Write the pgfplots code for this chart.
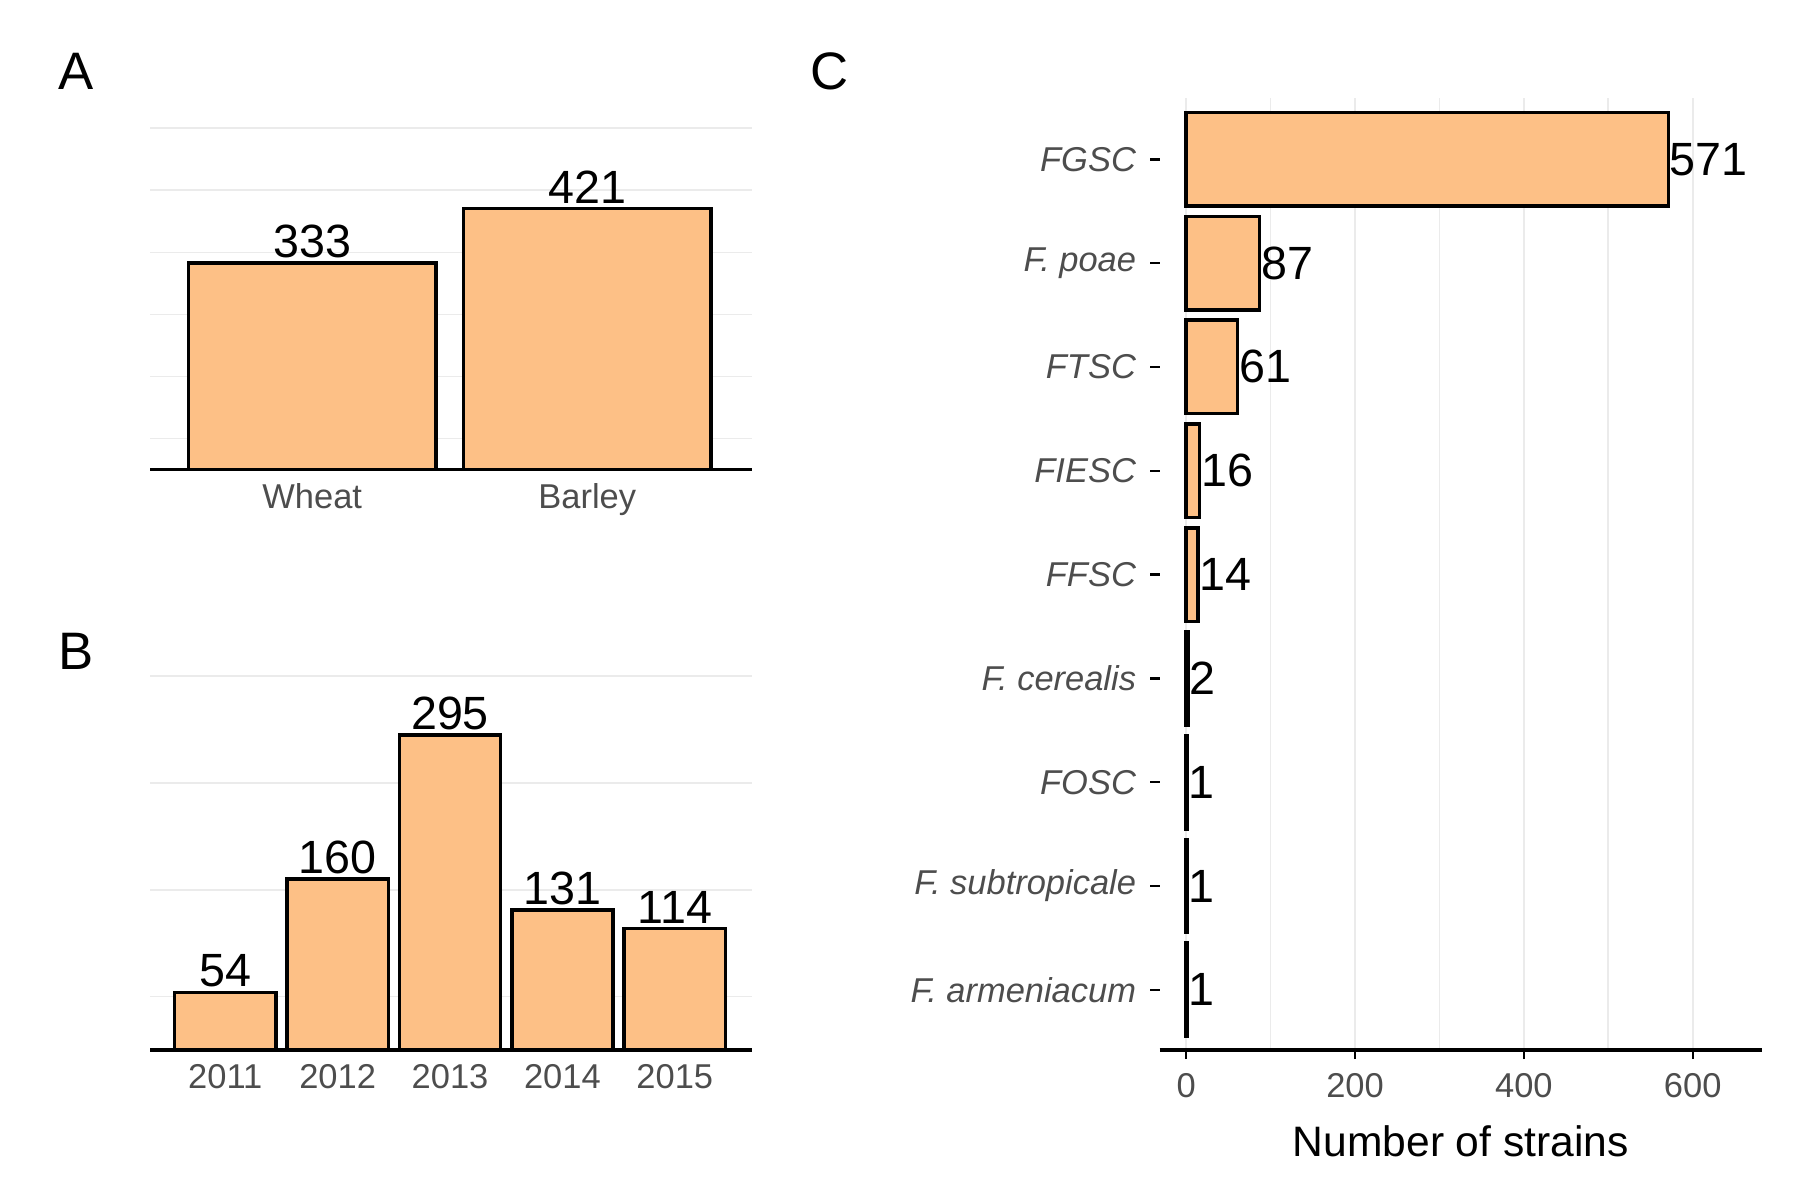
\documentclass[border=0pt]{standalone}
\usepackage{pgfplots}
\pgfplotsset{compat=1.18}
\usepackage{fontspec}
\setmainfont{Liberation Sans}
\definecolor{barf}{HTML}{FDC086}
\definecolor{gridc}{HTML}{EBEBEB}
\definecolor{tickc}{HTML}{4D4D4D}
\pgfplotsset{
  common/.style={
    scale only axis, anchor=south west,
    /pgf/number format/assume math mode=true,
    ticklabel style={font=\fontsize{8.5}{10}\selectfont, text=tickc},
    label style={font=\fontsize{10.5}{12}\selectfont},
    grid style={gridc, line width=0.4pt},
    axis line style={line width=0.8pt},
    tick style={line width=0.6pt, black},
    tick align=outside,
  },
  vbar/.style={common, ybar, bar width=0.9,
    axis x line*=bottom, axis y line=none,
    ymin=0, xtick=data, major tick length=0pt,
    nodes near coords, point meta=explicit symbolic,
    every node near coord/.append style={font=\fontsize{11.5}{13}\selectfont, inner sep=0.8pt, anchor=south},
    ylabel={Number of strains},
  },
}
\begin{document}
\begin{tikzpicture}
\path (0,0) rectangle (156mm,-104mm);
% Panel A
\begin{axis}[vbar, at={(13mm,-40.7mm)}, width=52.2mm, height=31.2mm,
  xmin=-0.59, xmax=1.6, ymax=580,
  xticklabels={Wheat,Barley}]
  \pgfplotsinvokeforeach{50,150,250,350,450,550}{\draw[gridc, line width=0.4pt] (axis cs:-0.59,#1) -- (axis cs:1.6,#1);}
  \addplot[fill=barf, draw=black, line width=0.85pt] coordinates {(0,333)[333] (1,421)[421]};
\end{axis}
\node[anchor=base west, font=\fontsize{13}{15}\selectfont] at (3.8mm,-7.8mm) {A};
% Panel B
\begin{axis}[vbar, at={(13mm,-91mm)}, width=52.2mm, height=33.5mm,
  xmin=-0.67, xmax=4.69, ymax=362,
  xticklabels={2011,2012,2013,2014,2015}]
  \pgfplotsinvokeforeach{50,150,250,350}{\draw[gridc, line width=0.4pt] (axis cs:-0.67,#1) -- (axis cs:4.69,#1);}
  \addplot[fill=barf, draw=black, line width=0.85pt] coordinates {(0,54)[54] (1,160)[160] (2,295)[295] (3,131)[131] (4,114)[114]};
\end{axis}
\node[anchor=base west, font=\fontsize{13}{15}\selectfont] at (3.8mm,-58mm) {B};
% Panel C
\begin{axis}[common, xbar, bar width=0.9, at={(100.5mm,-91mm)}, width=52.2mm, height=82.5mm,
  axis lines*=left, y axis line style={draw=none},
  xmin=-31.4, xmax=682, ymin=-0.58, ymax=8.59,
  xtick={0,200,400,600}, minor xtick={100,300,500},
  xmajorgrids, xminorgrids, minor grid style={gridc, line width=0.4pt},
  minor tick length=0pt, major tick length=0.8mm,
  ytick={0,...,8},
  yticklabels={\textit{F. armeniacum},\textit{F. subtropicale},\textit{FOSC},\textit{F. cerealis},\textit{FFSC},\textit{FIESC},\textit{FTSC},\textit{F. poae},\textit{FGSC}},
  xlabel={Number of strains},
  nodes near coords, point meta=explicit symbolic,
  every node near coord/.append style={font=\fontsize{11.5}{13}\selectfont, inner sep=0pt, anchor=west},
  ]
  \addplot[fill=barf, draw=black, line width=0.85pt] coordinates {(1,0)[1] (1,1)[1] (1,2)[1] (2,3)[2] (14,4)[14] (16,5)[16] (61,6)[61] (87,7)[87] (571,8)[571]};
\end{axis}
\node[anchor=base west, font=\fontsize{13}{15}\selectfont] at (69mm,-7.8mm) {C};
\end{tikzpicture}
\end{document}
